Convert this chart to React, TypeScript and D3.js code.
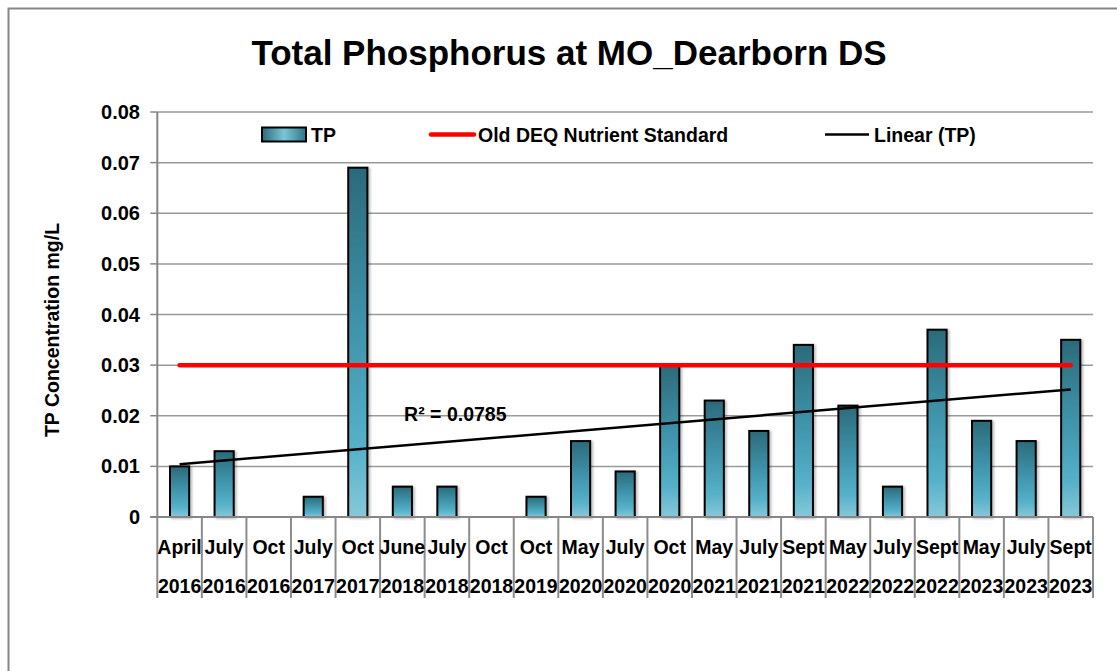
import React from "react";
import * as d3 from "d3";

const months = ["April","July","Oct","July","Oct","June","July","Oct","Oct","May","July","Oct","May","July","Sept","May","July","Sept","May","July","Sept"];
const years = ["2016","2016","2016","2017","2017","2018","2018","2018","2019","2020","2020","2020","2021","2021","2021","2022","2022","2022","2023","2023","2023"];
const tpValues = [0.010,0.013,0,0.004,0.069,0.006,0.006,0,0.004,0.015,0.009,0.030,0.023,0.017,0.034,0.022,0.006,0.037,0.019,0.015,0.035];
const standardValue = 0.03;
const yTickValues = [0,0.01,0.02,0.03,0.04,0.05,0.06,0.07,0.08];
const titleText = "Total Phosphorus at MO_Dearborn DS";
const yAxisTitle = "TP Concentration mg/L";
const legendLabels = ["TP", "Old DEQ Nutrient Standard", "Linear (TP)"];

const FONT = "'Liberation Sans', Arial, sans-serif";

export default function App() {
  const W = 1117, H = 671;
  const left = 157.3, right = 1093, top = 112, bottom = 517;
  const idx = months.map((_, i) => i);
  const x = d3.scaleBand<number>().domain(idx).range([left, right]).padding(0);
  const y = d3.scaleLinear().domain([0, 0.08]).range([bottom, top]);
  const bw = x.bandwidth();
  const barW = bw * 0.43;
  const cx = (i: number) => (x(i) as number) + bw / 2;

  // linear trend (Excel: x = 1..n)
  const n = tpValues.length;
  const xs = tpValues.map((_, i) => i + 1);
  const mx = d3.mean(xs)!, my = d3.mean(tpValues)!;
  let sxy = 0, sxx = 0, syy = 0;
  xs.forEach((xv, i) => { sxy += (xv - mx) * (tpValues[i] - my); sxx += (xv - mx) ** 2; syy += (tpValues[i] - my) ** 2; });
  const slope = sxy / sxx, intercept = my - slope * mx;
  const r2 = (sxy * sxy) / (sxx * syy);
  const trendPts: [number, number][] = [[cx(0), y(intercept + slope * 1)], [cx(n - 1), y(intercept + slope * n)]];
  const line = d3.line();

  return (
    <svg width={W} height={H} style={{ position: "absolute", left: 0, top: 0, background: "#fff" }} fontFamily={FONT}>
      <defs>
        <linearGradient id="barGrad" x1="0" y1="0" x2="0" y2="1">
          <stop offset="0" stopColor="#2b6a7a" />
          <stop offset="0.45" stopColor="#3f93aa" />
          <stop offset="0.8" stopColor="#55b1c9" />
          <stop offset="1" stopColor="#86c8d9" />
        </linearGradient>
        <linearGradient id="legGrad" x1="0" y1="0" x2="1" y2="0">
          <stop offset="0" stopColor="#2b6a7a" />
          <stop offset="0.5" stopColor="#7cc5d8" />
          <stop offset="1" stopColor="#2f7587" />
        </linearGradient>
        <filter id="shadow" x="-30%" y="-10%" width="160%" height="120%">
          <feDropShadow dx="2" dy="1" stdDeviation="1.2" floodColor="#000" floodOpacity="0.25" />
        </filter>
      </defs>
      <rect x={8.5} y={8.5} width={1200} height={800} fill="none" stroke="#868686" strokeWidth={2} />

      <text x={569} y={65} textAnchor="middle" fontSize={35} fontWeight="bold" fill="#000">{titleText}</text>

      {/* gridlines */}
      {yTickValues.map((t) => (
        <g key={t}>
          {t > 0 && <line x1={left} x2={right} y1={y(t)} y2={y(t)} stroke="#9a9a9a" strokeWidth={1.5} />}
          <line x1={left - 7} x2={left} y1={y(t)} y2={y(t)} stroke="#868686" strokeWidth={1.5} />
          <text x={140} y={y(t) + 7} textAnchor="end" fontSize={20} fontWeight="bold">{t === 0 ? "0" : t.toFixed(2)}</text>
        </g>
      ))}
      <line x1={left} x2={left} y1={top} y2={bottom} stroke="#868686" strokeWidth={2} />

      {/* bars */}
      {tpValues.map((v, i) => v > 0 && (
        <rect key={i} x={cx(i) - barW / 2} y={y(v)} width={barW} height={bottom - y(v)} fill="url(#barGrad)" stroke="#000" strokeWidth={2} filter="url(#shadow)" />
      ))}

      {/* x axis */}
      <line x1={left - 7} x2={right} y1={bottom} y2={bottom} stroke="#868686" strokeWidth={2} />
      {idx.map((i) => (
        <line key={"d" + i} x1={x(i)!} x2={x(i)!} y1={bottom} y2={598} stroke="#8c8c8c" strokeWidth={2} />
      ))}
      <line x1={right} x2={right} y1={bottom} y2={598} stroke="#8c8c8c" strokeWidth={2} />
      {idx.map((i) => (
        <g key={"l" + i}>
          <text x={cx(i)} y={554} textAnchor="middle" fontSize={19.5} fontWeight="bold">{months[i]}</text>
          <text x={cx(i)} y={593} textAnchor="middle" fontSize={19.5} fontWeight="bold">{years[i]}</text>
        </g>
      ))}

      {/* standard line */}
      <path d={line([[cx(0), y(standardValue)], [cx(n - 1), y(standardValue)]])!} stroke="#ff0000" strokeWidth={4.5} strokeLinecap="round" fill="none" />
      {/* trend line */}
      <path d={line(trendPts)!} stroke="#000" strokeWidth={2.5} fill="none" />
      <text x={(x(5) as number) + 24} y={y(0.019)} fontSize={19.5} fontWeight="bold">{`R² = ${r2.toFixed(4)}`}</text>

      {/* y title */}
      <text transform={`translate(59,330) rotate(-90)`} textAnchor="middle" fontSize={19.5} fontWeight="bold">{yAxisTitle}</text>

      {/* legend */}
      <rect x={262} y={127.5} width={44} height={14} fill="url(#legGrad)" stroke="#000" strokeWidth={2} />
      <text x={311} y={141.5} fontSize={19.5} fontWeight="bold">{legendLabels[0]}</text>
      <line x1={431} x2={474} y1={134.5} y2={134.5} stroke="#ff0000" strokeWidth={4.5} strokeLinecap="round" />
      <text x={478} y={141.5} fontSize={19.5} fontWeight="bold">{legendLabels[1]}</text>
      <line x1={825} x2={869} y1={134.5} y2={134.5} stroke="#000" strokeWidth={2.5} />
      <text x={874} y={141.5} fontSize={19.5} fontWeight="bold">{legendLabels[2]}</text>
    </svg>
  );
}
